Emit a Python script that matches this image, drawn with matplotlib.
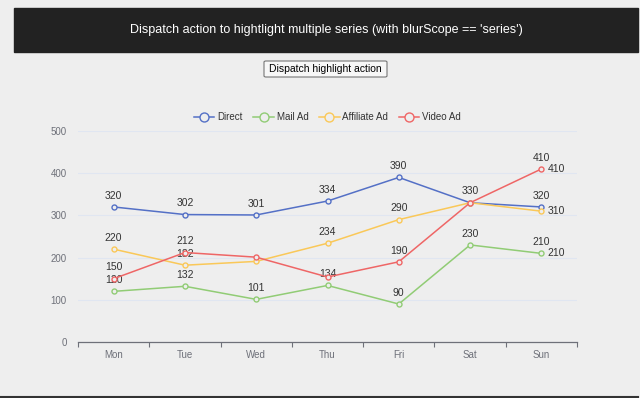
import matplotlib
matplotlib.use("Agg")
import matplotlib.pyplot as plt
from matplotlib.patches import Rectangle, FancyBboxPatch
from matplotlib.lines import Line2D

plt.rcParams['font.family'] = ['Liberation Sans', 'DejaVu Sans']

days = ['Mon', 'Tue', 'Wed', 'Thu', 'Fri', 'Sat', 'Sun']
names = ['Direct', 'Mail Ad', 'Affiliate Ad', 'Video Ad']
colors = ['#5470c6', '#91cc75', '#fac858', '#ee6666']
direct = [320, 302, 301, 334, 390, 330, 320]
mail_ad = [120, 132, 101, 134, 90, 230, 210]
affiliate_ad = [220, 182, 191, 234, 290, 330, 310]
video_ad = [150, 212, 201, 154, 190, 330, 410]
series = [direct, mail_ad, affiliate_ad, video_ad]
# which point labels survive echarts' overlap hiding
shown = [
    [1, 1, 1, 1, 1, 1, 1],
    [1, 1, 1, 1, 1, 1, 1],
    [1, 1, 0, 1, 1, 0, 0],
    [1, 1, 0, 0, 1, 0, 1],
]
end_label = [False, True, True, True]

bg = '#eeeeee'
fig = plt.figure(figsize=(6.4, 3.98), dpi=100, facecolor=bg)

# header bar
fig.add_artist(Rectangle((14 / 640, 1 - 52 / 398), 624 / 640, 44 / 398,
                         transform=fig.transFigure, color='#222222', zorder=0))
fig.text(326 / 640, 1 - 30 / 398,
         "Dispatch action to hightlight multiple series (with blurScope == 'series')",
         color='white', fontsize=9, ha='center', va='center')
# button
fig.add_artist(FancyBboxPatch((264 / 640, 1 - 77 / 398), 123 / 640, 16 / 398,
                              boxstyle='round,pad=0,rounding_size=0.003',
                              transform=fig.transFigure, facecolor='#f7f7f7',
                              edgecolor='#767676', linewidth=0.8))
fig.text(325.5 / 640, 1 - 69 / 398, 'Dispatch highlight action',
         color='black', fontsize=7.5, ha='center', va='center')
# bottom border
fig.add_artist(Line2D([0, 638 / 640], [0.6 / 398, 0.6 / 398],
                      transform=fig.transFigure, color='#333333', linewidth=1.5))

ax = fig.add_axes([78 / 640, 1 - 342 / 398, 499 / 640, 211 / 398])
ax.set_facecolor(bg)
x = list(range(len(days)))
for vals, name, c, sh, el in zip(series, names, colors, shown, end_label):
    ax.plot(x, vals, color=c, linewidth=1.1, marker='o', markersize=3.6,
            markerfacecolor=bg, markeredgecolor=c, markeredgewidth=1.0,
            label=name, zorder=3)
    for xi, v, s in zip(x, vals, sh):
        if s:
            ax.annotate(str(v), (xi, v), xytext=(0, 4.5), textcoords='offset points',
                        ha='center', va='bottom', fontsize=7.5, color='#333333')
    if el:
        ax.annotate(str(vals[-1]), (x[-1], vals[-1]), xytext=(4.5, 0),
                    textcoords='offset points', ha='left', va='center',
                    fontsize=7.5, color='#333333')

ax.set_xlim(-0.5, len(days) - 0.5)
ax.set_ylim(0, 500)
ax.set_yticks([0, 100, 200, 300, 400, 500])
ax.grid(axis='y', color='#e0e6f1', linewidth=0.8, zorder=0)
ax.set_xticks(x)
ax.set_xticklabels(days)
ax.tick_params(axis='x', length=0, pad=6, labelsize=7, labelcolor='#6e7079')
ax.set_xticks([i - 0.5 for i in range(len(days) + 1)], minor=True)
ax.tick_params(axis='x', which='minor', length=3.5, color='#6e7079', width=0.8)
ax.tick_params(axis='y', length=0, pad=8, labelsize=7, labelcolor='#6e7079')
for s in ['top', 'right', 'left']:
    ax.spines[s].set_visible(False)
ax.spines['bottom'].set_color('#6e7079')
ax.spines['bottom'].set_linewidth(0.9)

ax.legend(loc='center', bbox_to_anchor=(0.5, 1 + 14 / 211), ncol=4, frameon=False,
          fontsize=7, handlelength=2.1, columnspacing=1.1, handletextpad=0.3,
          markerscale=1.8, labelcolor='#333333')

fig.savefig('out.png', dpi=100, facecolor=bg)
